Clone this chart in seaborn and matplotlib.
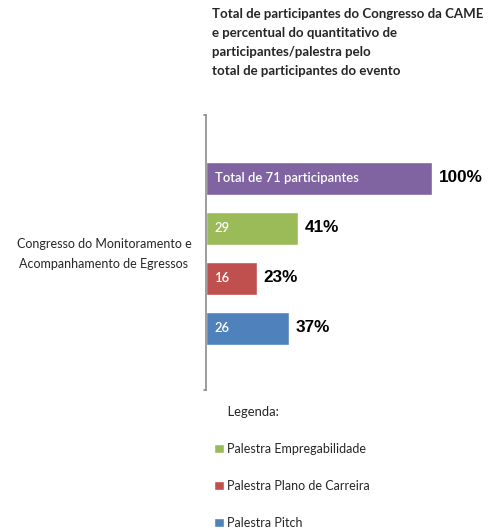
import matplotlib
matplotlib.use("Agg")
import matplotlib.pyplot as plt
import seaborn as sns
import pandas as pd

# dados
categorias = ["Total", "Palestra Empregabilidade", "Palestra Plano de Carreira", "Palestra Pitch"]
participantes = [71, 29, 16, 26]
percentuais = ["100%", "41%", "23%", "37%"]
rotulos_barra = ["Total de 71 participantes", "29", "16", "26"]
cores = ["#8064A2", "#9BBB59", "#C0504D", "#4F81BD"]

titulo = ("Total de participantes do Congresso da CAME\n"
          "e percentual do quantitativo de\n"
          "participantes/palestra pelo\n"
          "total de participantes do evento")
rotulo_grupo = "Congresso do Monitoramento e\nAcompanhamento de Egressos"

sns.set_style("white")
plt.rcParams['font.family'] = ['Lato', 'DejaVu Sans']

df = pd.DataFrame({"categoria": categorias, "valor": participantes})

fig = plt.figure(figsize=(4.89, 5.31), dpi=100)
ax = fig.add_axes([206 / 489, 1 - 390 / 531, 1 - 206 / 489, (390 - 115) / 531])

sns.barplot(data=df, x="valor", y="categoria", hue="categoria", palette=cores,
            width=0.66, legend=False, ax=ax, saturation=1)

ax.set_xlim(0, 89)
ax.set_ylim(3 + 1.24, -1.26)
ax.set_xlabel("")
ax.set_ylabel("")
ax.set_xticks([])
ax.set_yticks([])
for lado in ["top", "right", "bottom"]:
    ax.spines[lado].set_visible(False)
ax.spines["left"].set_color("#8c8c8c")
ax.spines["left"].set_linewidth(1.2)

# pequenos tracos nas pontas do eixo
ax.plot([-0.6, 0], [-1.26, -1.26], color="#8c8c8c", lw=1.2, clip_on=False)
ax.plot([-0.6, 0], [4.24, 4.24], color="#8c8c8c", lw=1.2, clip_on=False)

for i, (v, p, r) in enumerate(zip(participantes, percentuais, rotulos_barra)):
    ax.text(2.8, i, r, color="white", fontsize=9.4, va="center", ha="left", weight="semibold")
    ax.text(v + 2.2, i, p, color="black", fontsize=12.3, va="center", ha="left",
            weight="bold", family=["Liberation Sans", "DejaVu Sans"])

fig.text(212 / 489, 1 - 8 / 531, titulo, fontsize=9.5, weight="bold", va="top", ha="left",
         linespacing=1.7)
fig.text(104 / 489, 1 - 254 / 531, rotulo_grupo, fontsize=9.0, va="center", ha="center",
         linespacing=1.75)

handles = list(ax.patches[1:])
leg = fig.legend(handles, categorias[1:], title="    Legenda:", loc="upper left",
                 bbox_to_anchor=(203 / 489, 1 - 395 / 531), frameon=False,
                 fontsize=9.0, title_fontsize=9.4, handlelength=0.75, handleheight=0.75,
                 handletextpad=0.25, labelspacing=2.0, alignment="left")

fig.savefig("out.png", dpi=100)
